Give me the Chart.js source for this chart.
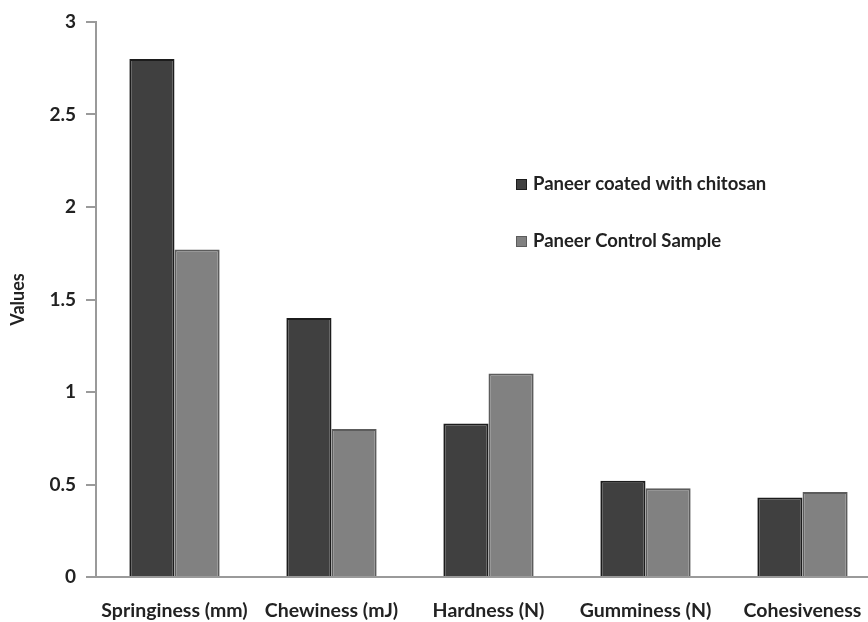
<!DOCTYPE html>
<html>
<head>
<meta charset="utf-8">
<script src="https://cdn.jsdelivr.net/npm/chart.js@4.4.1/dist/chart.umd.min.js"></script>
<style>
  html, body { margin: 0; padding: 0; background: #fff; overflow: hidden; }
  #wrap { width: 885px; height: 622px; }
</style>
</head>
<body>
<div id="wrap"><canvas id="c" width="885" height="622"></canvas></div>
<script>
// Texture profile of paneer samples
const categories = ['Springiness (mm)', 'Chewiness (mJ)', 'Hardness (N)', 'Gumminess (N)', 'Cohesiveness'];
const coatedValues = [2.80, 1.40, 0.83, 0.52, 0.43];
const controlValues = [1.77, 0.80, 1.10, 0.48, 0.46];
const seriesLabels = ['Paneer coated with chitosan', 'Paneer Control Sample'];
const yTicks = [0, 0.5, 1, 1.5, 2, 2.5, 3];

const FONT = 'Lato, "Open Sans", sans-serif';
const TEXT = '#222';

// Legend drawn inside the plot area, to the right of the tall bars
const innerLegend = {
  id: 'innerLegend',
  afterDraw(chart) {
    const ctx = chart.ctx;
    ctx.save();
    ctx.font = 'bold 18.5px ' + FONT;
    ctx.textBaseline = 'middle';
    chart.data.datasets.forEach((ds, i) => {
      const y = 184 + i * 57;
      ctx.fillStyle = ds.borderColor;
      ctx.fillRect(516, y - 5, 11, 11);
      ctx.fillStyle = ds.backgroundColor;
      ctx.fillRect(517, y - 4, 9, 9);
      ctx.fillStyle = TEXT;
      ctx.fillText(ds.label, 533, y);
    });
    ctx.restore();
  }
};

new Chart(document.getElementById('c'), {
  type: 'bar',
  data: {
    labels: categories,
    datasets: [
      { label: seriesLabels[0], data: coatedValues, backgroundColor: '#404040', borderColor: '#1c1c1c', borderWidth: 2 },
      { label: seriesLabels[1], data: controlValues, backgroundColor: '#818181', borderColor: '#5c5c5c', borderWidth: 2 }
    ]
  },
  options: {
    responsive: false,
    animation: false,
    layout: { padding: { left: 7, right: 4, top: 22, bottom: 0 } },
    datasets: { bar: { categoryPercentage: 0.575, barPercentage: 1.0 } },
    plugins: { legend: { display: false }, tooltip: { enabled: false } },
    scales: {
      x: {
        grid: { display: false, drawTicks: false },
        border: { color: '#9a9a9a', width: 2 },
        ticks: { color: TEXT, font: { family: FONT, size: 19.5, weight: 'bold' }, padding: 22, maxRotation: 0, autoSkip: false },
        afterFit(scale) { scale.height = 45; }
      },
      y: {
        min: 0,
        max: 3,
        afterBuildTicks(scale) { scale.ticks = yTicks.map(v => ({ value: v })); },
        grid: { drawOnChartArea: false, tickLength: 10, color: '#9a9a9a', lineWidth: 2 },
        border: { color: '#9a9a9a', width: 2 },
        ticks: { color: TEXT, font: { family: FONT, size: 19, weight: 'bold' }, padding: 10, callback: v => String(v) },
        title: { display: true, text: 'Values', color: TEXT, font: { family: FONT, size: 18, weight: 'bold' }, padding: { top: 0, bottom: 10 } },
        afterFit(scale) { scale.width = 89; }
      }
    }
  },
  plugins: [innerLegend]
});
</script>
</body>
</html>
